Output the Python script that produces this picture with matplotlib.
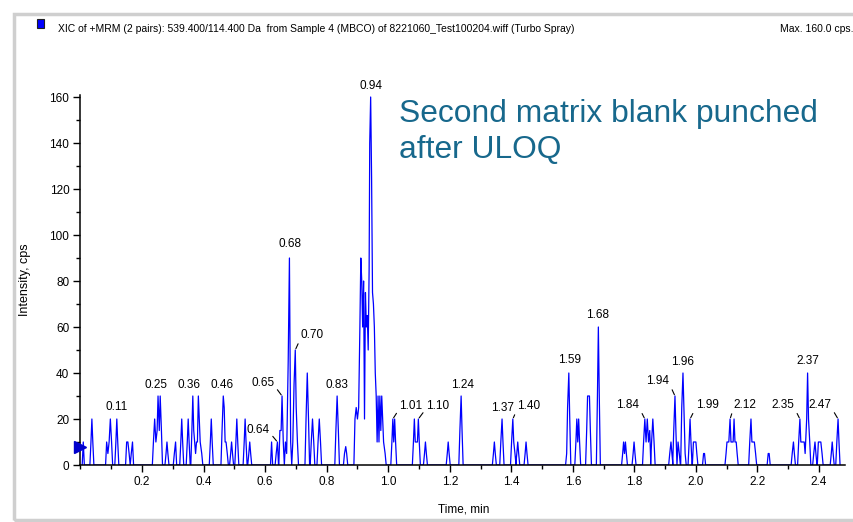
import matplotlib
matplotlib.use("Agg")
import matplotlib.pyplot as plt
from matplotlib.patches import Rectangle
from matplotlib.ticker import MultipleLocator, FixedLocator

# ---------------- data ----------------
time_min = [
    0.009,
    0.034, 0.037, 0.040,
    0.085, 0.089, 0.093, 0.097, 0.101,
    0.115, 0.118, 0.121,
    0.150, 0.154, 0.158, 0.165, 0.169,
    0.237, 0.241, 0.245, 0.249, 0.252, 0.256, 0.259, 0.263,
    0.278, 0.281, 0.284,
    0.305, 0.309,
    0.326, 0.329, 0.332,
    0.347, 0.350, 0.353,
    0.362, 0.365, 0.368, 0.371, 0.374, 0.377, 0.380, 0.383, 0.386, 0.389,
    0.394,
    0.422, 0.425, 0.428,
    0.460, 0.464, 0.467, 0.470, 0.473, 0.477,
    0.488, 0.491, 0.494,
    0.505, 0.508, 0.511,
    0.532, 0.535, 0.538,
    0.547, 0.550, 0.553,
    0.621,
    0.636, 0.640,
    0.648, 0.652, 0.655, 0.659,
    0.666, 0.670,
    0.675, 0.679, 0.683,
    0.690, 0.694, 0.698, 0.701, 0.705,
    0.733, 0.737, 0.741,
    0.750, 0.754, 0.758,
    0.772, 0.776, 0.780,
    0.830, 0.834, 0.838,
    0.858, 0.862, 0.865,
    0.892, 0.896, 0.900, 0.904, 0.908, 0.911, 0.914, 0.917, 0.920, 0.923,
    0.926, 0.929, 0.932, 0.935, 0.938, 0.940, 0.943, 0.946, 0.949, 0.952,
    0.955, 0.958, 0.961, 0.964, 0.967, 0.970, 0.973, 0.976, 0.979, 0.982,
    0.985, 0.990,
    1.012, 1.015, 1.018, 1.021, 1.024,
    1.082, 1.085, 1.088, 1.091, 1.095, 1.098, 1.101,
    1.118, 1.121, 1.124,
    1.192, 1.195, 1.198,
    1.233, 1.237, 1.240,
    1.342, 1.345, 1.348,
    1.366, 1.370, 1.373,
    1.401, 1.405, 1.408, 1.412,
    1.418, 1.421, 1.424,
    1.445, 1.448, 1.451,
    1.580, 1.583, 1.587, 1.590,
    1.610, 1.613, 1.616, 1.619, 1.622,
    1.645, 1.648, 1.651, 1.654, 1.657,
    1.680, 1.683, 1.686,
    1.762, 1.765, 1.768, 1.771, 1.774,
    1.796, 1.799, 1.802,
    1.830, 1.834, 1.838, 1.842, 1.846, 1.850, 1.856, 1.860, 1.864,
    1.915, 1.919, 1.922,
    1.928, 1.932, 1.935,
    1.942, 1.946,
    1.954, 1.958, 1.962, 1.965,
    1.978, 1.981, 1.984,
    1.992, 1.996, 2.000, 2.003,
    2.025, 2.028,
    2.098, 2.101, 2.104, 2.107, 2.111, 2.114, 2.117, 2.121, 2.124, 2.127, 2.131, 2.134,
    2.175, 2.179, 2.182, 2.186, 2.190, 2.194,
    2.235, 2.238,
    2.313, 2.317, 2.320,
    2.334, 2.338, 2.341, 2.344, 2.348, 2.352, 2.355, 2.360, 2.363, 2.366, 2.370,
    2.383, 2.387, 2.390,
    2.398, 2.402, 2.406, 2.410,
    2.440, 2.443, 2.446,
    2.458, 2.462, 2.465,
]
intensity_cps = [
    10,
    10, 20, 10,
    10, 5, 10, 20, 10,
    10, 20, 10,
    10, 10, 5, 5, 10,
    10, 20, 10, 15, 30, 15, 30, 15,
    5, 10, 5,
    5, 10,
    10, 20, 10,
    10, 20, 10,
    15, 30, 15, 10, 5, 10, 10, 30, 20, 10,
    5,
    10, 20, 10,
    15, 30, 25, 10, 10, 5,
    5, 10, 5,
    10, 20, 10,
    10, 20, 10,
    5, 10, 5,
    10,
    5, 10,
    15, 15, 30, 10,
    10, 5,
    45, 90, 10,
    10, 35, 50, 25, 10,
    20, 40, 20,
    10, 20, 10,
    10, 20, 10,
    15, 30, 15,
    5, 8, 5,
    20, 25, 20, 25, 60, 90, 80, 60, 80, 20,
    75, 60, 65, 50, 85, 140, 160, 125, 75, 70,
    60, 40, 30, 10, 30, 10, 30, 15, 30, 20,
    10, 5,
    10, 20, 10, 20, 10,
    10, 20, 10, 10, 10, 20, 10,
    5, 10, 5,
    5, 10, 5,
    15, 30, 15,
    5, 10, 5,
    10, 20, 10,
    10, 20, 10, 5,
    5, 10, 5,
    5, 10, 5,
    5, 25, 40, 20,
    10, 20, 10, 20, 10,
    15, 30, 30, 30, 15,
    30, 60, 30,
    5, 10, 5, 10, 5,
    5, 10, 5,
    10, 20, 10, 20, 10, 15, 10, 20, 10,
    5, 10, 5,
    15, 30, 15,
    10, 5,
    25, 40, 20, 5,
    10, 20, 10,
    10, 10, 10, 5,
    5, 5,
    5, 10, 10, 10, 20, 10, 10, 10, 20, 10, 10, 5,
    10, 20, 10, 10, 10, 5,
    5, 5,
    5, 10, 5,
    10, 20, 10, 10, 10, 10, 5, 20, 40, 20, 10,
    5, 10, 5,
    10, 10, 10, 5,
    5, 10, 5,
    10, 20, 10,
]

# peak labels: text, apex time, apex intensity
label_text = ["0.11", "0.25", "0.36", "0.46", "0.65", "0.64", "0.68", "0.70", "0.83",
              "0.94", "1.01", "1.10", "1.24", "1.37", "1.40", "1.59", "1.68", "1.84",
              "1.94", "1.96", "1.99", "2.12", "2.35", "2.37", "2.47"]
label_time = [0.118, 0.252, 0.365, 0.464, 0.655, 0.640, 0.679, 0.698, 0.834,
              0.943, 1.015, 1.098, 1.237, 1.370, 1.405, 1.587, 1.683, 1.834,
              1.932, 1.958, 1.981, 2.111, 2.338, 2.363, 2.462]
label_height = [20, 30, 30, 30, 30, 10, 90, 50, 30,
                160, 20, 20, 30, 20, 20, 40, 60, 20,
                30, 40, 20, 20, 20, 40, 20]

x_ticks = [0.2, 0.4, 0.6, 0.8, 1.0, 1.2, 1.4, 1.6, 1.8, 2.0, 2.2, 2.4]
y_ticks = [0, 20, 40, 60, 80, 100, 120, 140, 160]

# ---------------- style ----------------
label_offset = [(0, 12), (-2, 11), (-4, 11), (-1, 11), (-19, 13), (-19, 12), (1, 14), (17, 15),
                (0, 11), (0, 11), (18, 13), (19, 13), (1, 11), (0, 11), (16, 13), (1, 13),
                (-1, 12), (-17, 14), (-17, 15), (0, 11), (17, 14), (15, 14), (-17, 14),
                (0, 12), (-18, 14)]

W, H = 854, 522
fig = plt.figure(figsize=(W / 100, H / 100), dpi=100)
fig.patch.set_facecolor("white")
font = "Liberation Sans"

# outer frame (left, top, bottom)
fig.add_artist(Rectangle((14 / W, 1 - 520 / H), (W + 20 - 14) / W, (520 - 14) / H,
                         transform=fig.transFigure, fill=False, edgecolor="#cfcfcf", lw=2.5))

x0, x1 = 80.5, 845
y0, y1 = 465, 95
ax = fig.add_axes([x0 / W, 1 - y0 / H, (x1 - x0) / W, (y0 - y1) / H])
ax.set_xlim(0, (x1 - x0) / 307.7)
ax.set_ylim(0, (y0 - y1) / 2.3)

# polyline with zero baseline between separated samples
dt = 0.0035
px, py = [], []
prev = None
for t, v in zip(time_min, intensity_cps):
    if prev is None or t - prev > 1.6 * dt:
        if prev is not None:
            px.append(prev + dt); py.append(0)
        px.append(t - dt); py.append(0)
    px.append(t); py.append(v)
    prev = t
px.append(prev + dt); py.append(0)
ax.plot(px, py, color="#0000ff", lw=0.9)

ax.plot([0], [8], marker=">", ms=8, color="#0000cc", clip_on=False, zorder=5)

for sp in ["top", "right"]:
    ax.spines[sp].set_visible(False)
for sp in ["left", "bottom"]:
    ax.spines[sp].set_linewidth(1.1)

ax.xaxis.set_major_locator(FixedLocator(x_ticks))
ax.xaxis.set_minor_locator(MultipleLocator(0.1))
ax.yaxis.set_major_locator(FixedLocator(y_ticks))
ax.yaxis.set_minor_locator(MultipleLocator(10))
ax.tick_params(which="major", length=5, width=1, labelsize=8.5, pad=3)
ax.tick_params(which="minor", length=3, width=1)
ax.set_xticklabels([f"{v:.1f}" for v in x_ticks], family=font)
ax.set_yticklabels([str(v) for v in y_ticks], family=font)

for txt, t, h, (dx, dy) in zip(label_text, label_time, label_height, label_offset):
    if dx <= -10:
        ap = dict(arrowstyle="-", lw=0.8, color="black", relpos=(1, 0.25), shrinkA=0, shrinkB=1)
    elif dx >= 10:
        ap = dict(arrowstyle="-", lw=0.8, color="black", relpos=(0, 0.25), shrinkA=0, shrinkB=1)
    else:
        ap = None
    ax.annotate(txt, xy=(t, h), xytext=(dx, dy), textcoords="offset pixels",
                ha="center", va="center", fontsize=8.5, family=font,
                arrowprops=ap, annotation_clip=False)

fig.text(25 / W, 1 - 280 / H, "Intensity, cps", rotation=90, ha="center", va="center",
         fontsize=9, family=font)
fig.text(464 / W, 1 - 510 / H, "Time, min", ha="center", va="center", fontsize=8.5, family=font)

# header
fig.add_artist(Rectangle((37 / W, 1 - 28 / H), 7 / W, 9 / H, transform=fig.transFigure,
                         facecolor="#0000ff", edgecolor="#202020", lw=0.8))
fig.text(58 / W, 1 - 29 / H,
         "XIC of +MRM (2 pairs): 539.400/114.400 Da  from Sample 4 (MBCO) of 8221060_Test100204.wiff (Turbo Spray)",
         ha="left", va="center", fontsize=7.5, family=font)
fig.text(780 / W, 1 - 29 / H, "Max. 160.0 cps.", ha="left", va="center", fontsize=7.5, family=font)

fig.text(399 / W, 1 - 99 / H, "Second matrix blank punched\nafter ULOQ", ha="left", va="top",
         fontsize=22.9, family=font, color="#17688c", linespacing=1.25)

fig.savefig("out.png", dpi=100, facecolor="white")
